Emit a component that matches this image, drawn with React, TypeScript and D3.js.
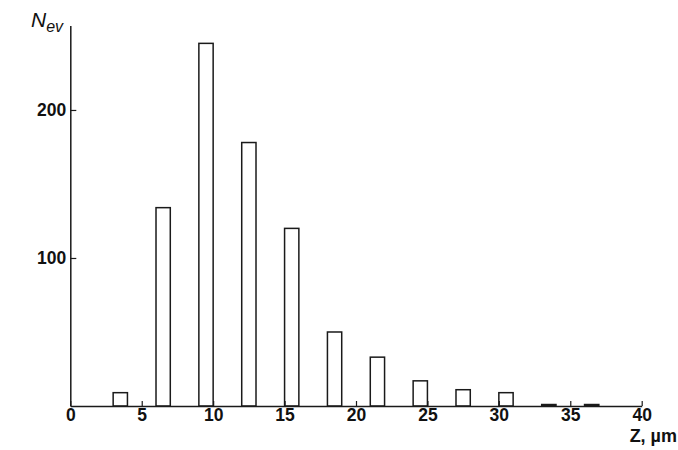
import React, { useEffect, useRef } from 'react'
import * as d3 from "d3";

// bin edges (Z, µm) and counts
const binStarts = [3, 6, 9, 12, 15, 18, 21, 24, 27, 30, 33, 36];
const binWidth = 1;
const counts = [9, 134, 245, 178, 120, 50, 33, 17, 11, 9, 1, 1];
const xTicks = [0, 5, 10, 15, 20, 25, 30, 35, 40];
const yTicks = [100, 200];

export default function App() {
    const selectedSvg = useRef<SVGSVGElement>(null);

    useEffect(() => {
        const svg = d3.select(selectedSvg.current);
        svg.selectAll("*").remove();

        const x = d3.scaleLinear().domain([0, 40]).range([70.3, 641.7]);
        const y = d3.scaleLinear().domain([0, 257]).range([406, 25.6]);
        const ink = "#1a1a1a";

        const data = binStarts.map((s, i) => ({ start: s, value: counts[i] }));

        // bars
        svg.append("g")
            .selectAll("rect")
            .data(data)
            .enter()
            .append("rect")
            .attr("x", d => x(d.start))
            .attr("width", d => x(d.start + binWidth) - x(d.start))
            .attr("y", d => y(d.value))
            .attr("height", d => y(0) - y(d.value))
            .attr("fill", "white")
            .attr("stroke", ink)
            .attr("stroke-width", 1.5);

        // x axis, ticks pointing up
        const gx = svg.append("g")
            .attr("transform", `translate(0,${y(0)})`)
            .call(d3.axisBottom(x).tickValues(xTicks).tickSizeInner(-5).tickSizeOuter(0).tickPadding(3));

        // y axis, ticks pointing right
        const gy = svg.append("g")
            .attr("transform", `translate(${x(0)},0)`)
            .call(d3.axisLeft(y).tickValues(yTicks).tickSizeInner(-6).tickSizeOuter(0).tickPadding(4));

        [gx, gy].forEach(g => {
            g.select(".domain").attr("stroke", ink).attr("stroke-width", 1.5);
            g.selectAll(".tick line").attr("stroke", ink).attr("stroke-width", 1.2);
            g.selectAll(".tick text")
                .attr("fill", "#111")
                .attr("font-family", "'Liberation Sans', Arial, sans-serif")
                .attr("font-weight", "bold")
                .attr("font-size", 17.5);
        });

        // axis titles
        const yTitle = svg.append("text")
            .attr("x", 31)
            .attr("y", 27)
            .attr("font-family", "'Liberation Sans', Arial, sans-serif")
            .attr("font-style", "italic")
            .attr("fill", "#111");
        yTitle.append("tspan").attr("font-size", 21).text("N");
        yTitle.append("tspan").attr("font-size", 16).attr("dy", 5).text("ev");

        svg.append("text")
            .attr("x", 677)
            .attr("y", 442)
            .attr("text-anchor", "end")
            .attr("font-family", "'Liberation Sans', Arial, sans-serif")
            .attr("font-weight", "bold")
            .attr("font-size", 18)
            .attr("fill", "#111")
            .text("Z, µm");
    }, [])

    return (
        <div style={{ position: "absolute", left: 0, top: 0, background: "white" }}>
            <svg ref={selectedSvg} width={678} height={450}></svg>
        </div>
    )
}
